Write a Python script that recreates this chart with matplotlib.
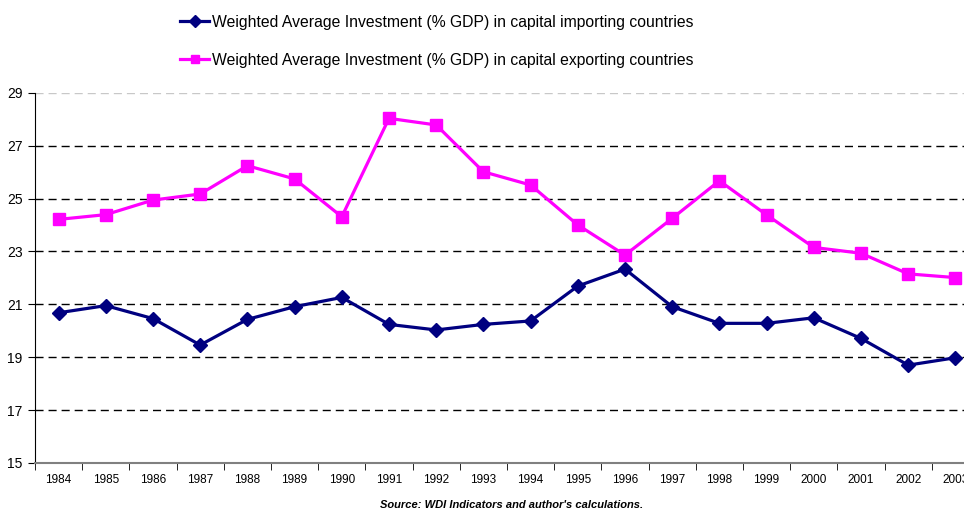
import matplotlib
matplotlib.use("Agg")
import matplotlib.pyplot as plt
import numpy as np

years = [str(y) for y in range(1984, 2004)]
importing = [20.68, 20.95, 20.46, 19.46, 20.43, 20.91, 21.26, 20.24, 20.03, 20.24,
             20.37, 21.69, 22.33, 20.91, 20.28, 20.28, 20.49, 19.71, 18.70, 18.98]
exporting = [24.21, 24.39, 24.94, 25.17, 26.24, 25.74, 24.31, 28.03, 27.78, 26.01,
             25.51, 24.00, 22.86, 24.25, 25.67, 24.38, 23.15, 22.93, 22.15, 22.01]
yticks = [15, 17, 19, 21, 23, 25, 27, 29]
label_imp = "Weighted Average Investment (% GDP) in capital importing countries"
label_exp = "Weighted Average Investment (% GDP) in capital exporting countries"
source = "Source: WDI Indicators and author's calculations."

plt.rcParams['font.family'] = ['Liberation Sans', 'DejaVu Sans']

fig = plt.figure(figsize=(9.64, 5.15), dpi=100)
ax = fig.add_axes([35/964, 1-463/515, (979-35)/964, (463-92.7)/515])

x = np.arange(len(years))
l1, = ax.plot(x, importing, color='#000080', lw=2.3, marker='D', ms=7.5, mec='#000080', mfc='#000080', zorder=3)
l2, = ax.plot(x, exporting, color='#FF00FF', lw=2.3, marker='s', ms=8, mec='#FF00FF', mfc='#FF00FF', zorder=3)

ax.set_xlim(-0.5, len(years) - 0.5)
ax.set_ylim(15, 29)
ax.set_yticks(yticks)
ax.set_yticklabels([str(v) for v in yticks], fontsize=10)
ax.set_xticks(x)
ax.set_xticklabels(years, fontsize=8.5)
ax.set_xticks(np.arange(-0.5, len(years)), minor=True)
ax.tick_params(axis='x', which='major', length=0, pad=8)
ax.tick_params(axis='x', which='minor', length=5, direction='out', color='black')
ax.tick_params(axis='y', length=5, direction='out', pad=4)

for v in yticks[1:]:
    c = '#c8c8c8' if v == 29 else 'black'
    ax.axhline(v, color=c, lw=1, ls=(0, (5.8, 3.6)), zorder=1)

for s in ['top', 'right']:
    ax.spines[s].set_visible(False)
ax.spines['left'].set_color('black')
ax.spines['bottom'].set_color('#808080')
ax.spines['bottom'].set_linewidth(1.5)

fig.legend([l1, l2], [label_imp, label_exp], loc='upper center', bbox_to_anchor=(437/964, 1.0),
           frameon=False, fontsize=11.3, ncol=1, handlelength=1.85, handletextpad=0.2,
           labelspacing=1.45, markerscale=0.8, borderaxespad=0.55)

fig.text(512/964, 1 - 505/515, source, fontsize=8, fontweight='bold', fontstyle='italic',
         ha='center', va='center')

fig.savefig("out.png", dpi=100)
